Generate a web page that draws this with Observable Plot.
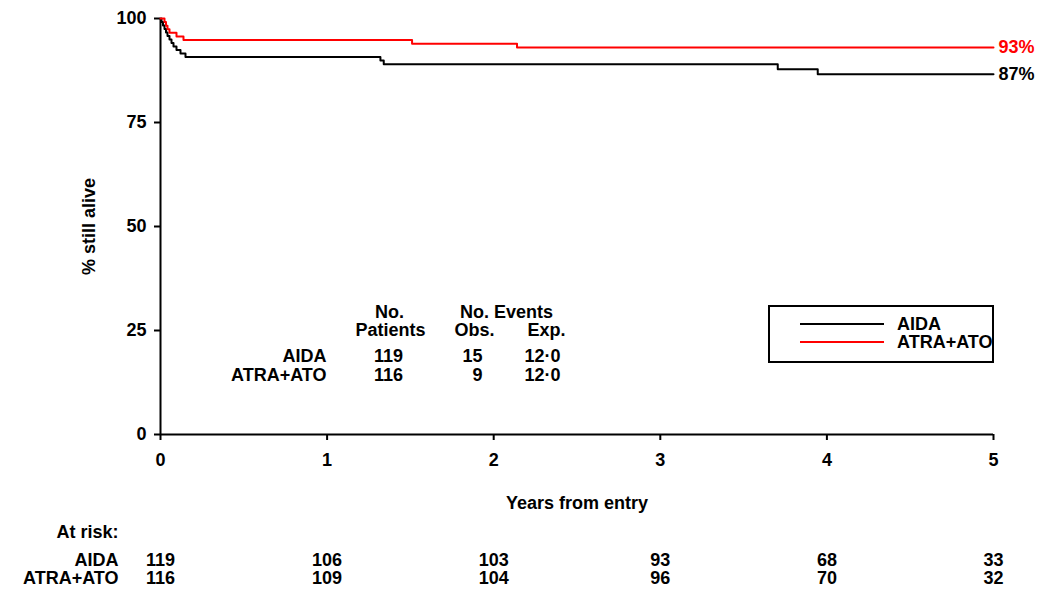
<!DOCTYPE html>
<html>
<head>
<meta charset="utf-8">
<script src="https://cdn.jsdelivr.net/npm/d3@7"></script>
<script src="https://cdn.jsdelivr.net/npm/@observablehq/plot@0.6"></script>
<style>
  html, body { margin: 0; padding: 0; background: #fff; }
  body { font-family: "Liberation Sans", Arial, Helvetica, sans-serif; font-weight: bold; color: #000; }
  #wrap { position: relative; width: 1041px; height: 592px; overflow: hidden; }
  #legend { position: absolute; left: 768px; top: 305px; width: 222px; height: 54px; border: 2px solid #000; }
  .lg-line { position: absolute; left: 30px; width: 84px; height: 2px; }
  .lg-text { position: absolute; left: 127px; font-size: 18px; line-height: 18px; white-space: nowrap; }
</style>
</head>
<body>
<div id="wrap"></div>
<script>
// ---- data ----
const groups = ["AIDA", "ATRA+ATO"];
const groupColors = ["#000000", "#ff0000"];

// Kaplan-Meier steps (years, % still alive)
const aidaTimes = [0, 0.006, 0.015, 0.024, 0.033, 0.042, 0.054, 0.066, 0.078, 0.096, 0.12, 0.15, 1.32, 1.34, 3.705, 3.945, 5];
const aidaSurv  = [100, 99.16, 98.32, 97.48, 96.64, 95.80, 94.96, 94.12, 93.28, 92.44, 91.60, 90.76, 89.9, 89.0, 87.8, 86.6, 86.6];
const atoTimes  = [0, 0.024, 0.033, 0.042, 0.054, 0.096, 0.138, 1.51, 2.14, 5];
const atoSurv   = [100, 99.14, 98.28, 97.41, 96.55, 95.69, 94.83, 93.94, 93.04, 93.04];

const endLabels = ["87%", "93%"];

// summary table
const patients = [119, 116];
const obsEvents = [15, 9];
const expEvents = ["12·0", "12·0"];

// numbers at risk
const riskYears = [0, 1, 2, 3, 4, 5];
const atRiskAIDA = [119, 106, 103, 93, 68, 33];
const atRiskATO  = [116, 109, 104, 96, 70, 32];

const xTicks = [0, 1, 2, 3, 4, 5];
const yTicks = [0, 25, 50, 75, 100];

// ---- build tables ----
const curves = [
  ...aidaTimes.map((t, i) => ({t, s: aidaSurv[i], g: groups[0]})),
  ...atoTimes.map((t, i) => ({t, s: atoSurv[i], g: groups[1]}))
];
const ends = [
  {t: aidaTimes[aidaTimes.length - 1], s: aidaSurv[aidaSurv.length - 1], g: groups[0], label: endLabels[0]},
  {t: atoTimes[atoTimes.length - 1], s: atoSurv[atoSurv.length - 1], g: groups[1], label: endLabels[1]}
];
const riskA = riskYears.map((x, i) => ({x, n: atRiskAIDA[i]}));
const riskB = riskYears.map((x, i) => ({x, n: atRiskATO[i]}));

const FONT = '"Liberation Sans", Arial, Helvetica, sans-serif';
const fs = 18;

const plot = Plot.plot({
  width: 1041,
  height: 592,
  marginLeft: 160,
  marginRight: 48,
  marginTop: 18,
  marginBottom: 158,
  style: {fontFamily: FONT, fontSize: fs + "px", fontWeight: "bold", color: "#000", background: "#fff", overflow: "visible"},
  x: {domain: [0, 5]},
  y: {domain: [0, 100]},
  color: {domain: groups, range: groupColors},
  marks: [
    Plot.axisY({ticks: yTicks, tickSize: 6, tickPadding: 8, tickFormat: d => d, label: "% still alive",
      labelAnchor: "center", labelArrow: "none", labelOffset: 78, strokeWidth: 2, fontWeight: "bold"}),
    Plot.axisX({ticks: xTicks, tickSize: 6, tickPadding: 13, tickFormat: d => d, label: "Years from entry",
      labelAnchor: "center", labelArrow: "none", labelOffset: 74, strokeWidth: 2, fontWeight: "bold"}),
    Plot.ruleX([0], {strokeWidth: 2}),
    Plot.ruleY([0], {strokeWidth: 2}),
    Plot.line(curves, {x: "t", y: "s", z: "g", stroke: "g", curve: "step-after", strokeWidth: 2}),
    Plot.text(ends, {x: "t", y: "s", text: "label", fill: "g", textAnchor: "start", dx: 5, fontSize: fs}),
    // summary table
    Plot.text(["No."], {frameAnchor: "top-left", dx: 229, dy: 287, text: d => d, textAnchor: "middle"}),
    Plot.text(["Patients"], {frameAnchor: "top-left", dx: 230, dy: 305, text: d => d, textAnchor: "middle"}),
    Plot.text(["No. Events"], {frameAnchor: "top-left", dx: 346, dy: 287, text: d => d, textAnchor: "middle"}),
    Plot.text(["Obs."], {frameAnchor: "top-left", dx: 314, dy: 305, text: d => d, textAnchor: "middle"}),
    Plot.text(["Exp."], {frameAnchor: "top-left", dx: 405, dy: 305, text: d => d, textAnchor: "end"}),
    Plot.text([groups[0]], {frameAnchor: "top-left", dx: 166, dy: 331, text: d => d, textAnchor: "end"}),
    Plot.text([groups[1]], {frameAnchor: "top-left", dx: 166, dy: 350, text: d => d, textAnchor: "end"}),
    Plot.text([patients[0]], {frameAnchor: "top-left", dx: 228, dy: 331, text: d => d, textAnchor: "middle"}),
    Plot.text([patients[1]], {frameAnchor: "top-left", dx: 228, dy: 350, text: d => d, textAnchor: "middle"}),
    Plot.text([obsEvents[0]], {frameAnchor: "top-left", dx: 322, dy: 331, text: d => d, textAnchor: "end"}),
    Plot.text([obsEvents[1]], {frameAnchor: "top-left", dx: 322, dy: 350, text: d => d, textAnchor: "end"}),
    Plot.text([expEvents[0]], {frameAnchor: "top-left", dx: 400, dy: 331, text: d => d, textAnchor: "end"}),
    Plot.text([expEvents[1]], {frameAnchor: "top-left", dx: 400, dy: 350, text: d => d, textAnchor: "end"}),
    // numbers at risk
    Plot.text(["At risk:"], {frameAnchor: "bottom-left", dx: -42, dy: 103, text: d => d, textAnchor: "end"}),
    Plot.text([groups[0]], {frameAnchor: "bottom-left", dx: -42, dy: 131, text: d => d, textAnchor: "end"}),
    Plot.text([groups[1]], {frameAnchor: "bottom-left", dx: -42, dy: 149, text: d => d, textAnchor: "end"}),
    Plot.text(riskA, {x: "x", frameAnchor: "bottom", dy: 131, text: "n", textAnchor: "middle"}),
    Plot.text(riskB, {x: "x", frameAnchor: "bottom", dy: 149, text: "n", textAnchor: "middle"})
  ]
});

const wrap = document.getElementById("wrap");
wrap.appendChild(plot);

// legend (HTML overlay)
const legend = document.createElement("div");
legend.id = "legend";
groups.forEach((g, i) => {
  const line = document.createElement("div");
  line.className = "lg-line";
  line.style.top = (16 + i * 18) + "px";
  line.style.background = groupColors[i];
  legend.appendChild(line);
  const txt = document.createElement("div");
  txt.className = "lg-text";
  txt.style.top = (8 + i * 18) + "px";
  txt.textContent = g;
  legend.appendChild(txt);
});
wrap.appendChild(legend);
</script>
</body>
</html>
